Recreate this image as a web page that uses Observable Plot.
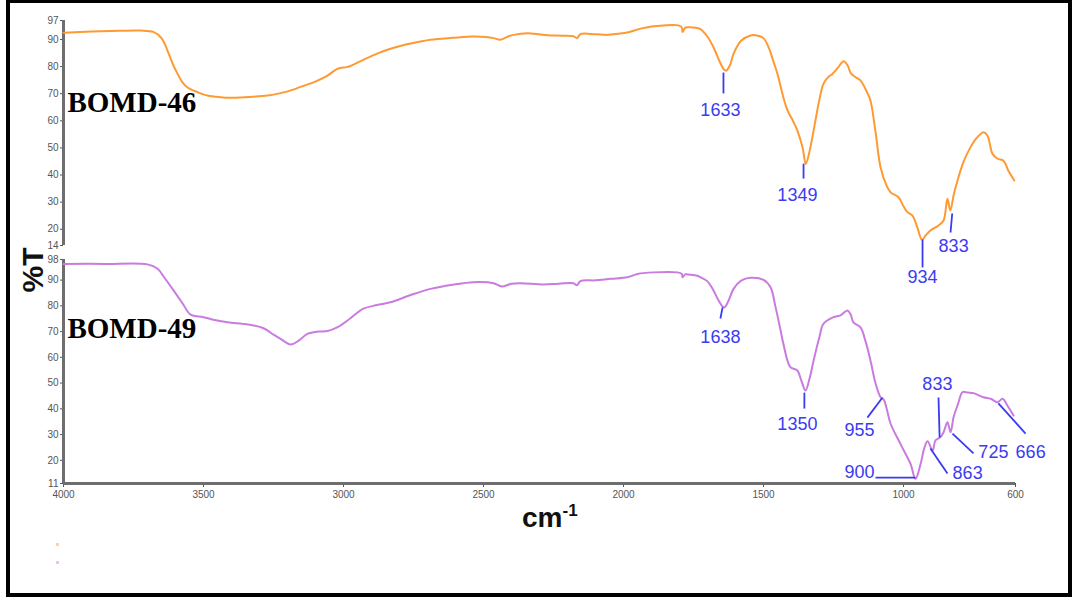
<!DOCTYPE html>
<html><head><meta charset="utf-8">
<script src="https://cdn.jsdelivr.net/npm/d3@7"></script>
<script src="https://cdn.jsdelivr.net/npm/@observablehq/plot@0.6"></script>
<style>
html,body{margin:0;padding:0;background:#fff;}
#wrap{position:relative;width:1075px;height:598px;overflow:hidden;background:#fff;}
#wrap svg{position:absolute;left:0;top:0;}
.frame{position:absolute;left:6px;top:-1px;width:1066px;height:598px;box-sizing:border-box;border:4px solid #000;}
.ylab{position:absolute;left:33px;top:270px;transform:translate(-50%,-50%) rotate(-90deg);font:bold 30px "Liberation Sans",Arial,sans-serif;color:#111;white-space:nowrap;line-height:30px;}
.xlab{position:absolute;left:522px;top:504px;font:bold 28px "Liberation Sans",Arial,sans-serif;color:#111;line-height:28px;white-space:nowrap;}
.xlab span{font-size:17px;position:relative;top:-11px;}
.dot{position:absolute;width:3px;height:3px;opacity:0.45;}
</style></head>
<body><div id="wrap"></div>
<script>
// ---- data ----
const xTicks = [4000, 3500, 3000, 2500, 2000, 1500, 1000, 600];
const yTicks46 = [97, 90, 80, 70, 60, 50, 40, 30, 20, 14];
const yTicks49 = [98, 90, 80, 70, 60, 50, 40, 30, 20, 11];

const wn46 = [4000,3900,3800,3725,3679,3650,3629,3610,3593,3575,3557,3520,3486,3440,3404,3340,3271,3225,3180,3154,3107,3060,3021,2990,2975,2929,2880,2832,2760,2689,2610,2536,2490,2464,2440,2410,2393,2343,2300,2271,2220,2179,2166,2154,2100,2057,2020,1986,1939,1900,1857,1804,1792,1789,1780,1771,1740,1725,1700,1679,1655,1640,1633,1620,1607,1580,1546,1520,1500,1482,1465,1450,1430,1414,1395,1379,1360,1349,1335,1321,1300,1286,1270,1254,1235,1214,1200,1188,1170,1154,1130,1118,1100,1082,1060,1046,1018,1000,986,968,950,934,920,904,875,857,843,833,820,807,785,761,740,714,700,682,664,643,625,604];
const t46 = [92.5,92.9,93.2,93.3,92.8,90.5,86,81,77.4,74.2,72.3,70.5,69.3,68.7,68.5,68.8,69.3,70.2,71.5,72.5,74.2,76.5,79.2,79.8,80.2,82.5,84.8,86.6,88.5,89.9,90.6,91.1,90.9,90.5,89.9,91.2,91.7,92.3,91.9,91.6,91.4,91.2,90.5,92.0,91.9,91.7,92.1,92.6,94.0,94.8,95.2,95.2,94.5,92.8,94.3,94.5,94.3,93.8,91,87.2,81.5,78.8,78.5,80.5,84.7,89.5,91.5,91.4,90.5,87.2,82,77.3,69,63.8,60,56.4,50,44.1,49,56.4,68,73.6,76,77.3,79.5,82,80.5,77.5,76,74.9,70.5,67.5,56,42.9,36,33.6,31.8,28.5,26.3,25,20.5,16.1,17.8,19.5,21.4,23.2,31.2,26.9,33,38,45,50.2,53.5,55.8,54.5,47.8,46,45.3,41.5,38];

const wn49 = [4000,3850,3700,3664,3640,3607,3575,3546,3500,3460,3414,3360,3321,3290,3271,3250,3225,3189,3160,3129,3090,3057,3021,2975,2929,2880,2832,2760,2689,2610,2536,2464,2440,2432,2400,2368,2286,2230,2179,2166,2154,2100,2046,1986,1950,1893,1807,1792,1789,1780,1771,1740,1725,1700,1682,1660,1645,1638,1625,1607,1580,1546,1500,1475,1457,1440,1429,1404,1379,1365,1350,1335,1321,1300,1286,1250,1225,1200,1188,1179,1154,1135,1118,1100,1082,1070,1060,1046,1011,975,957,939,925,914,896,886,868,857,843,832,821,805,789,770,750,714,689,664,646,629,607];
const t49 = [96.3,96.3,96.1,94.4,91,86,81,76.6,75.6,74.5,73.6,73,72.4,71.5,70.4,68.8,67.2,65,66.5,69.1,70,70.2,71.7,75.2,78.9,80.3,81.4,84.2,86.6,88.2,89.2,88.8,87.7,87.5,88.6,88.8,88.3,88.6,88.8,88.0,89.6,89.9,90.5,91.1,92.4,93,93,92.4,91.1,92.2,92.2,91.8,91.1,89.5,86.6,82,79.6,79.5,82,86.6,89.8,90.9,90.1,87.2,79.5,71,65.3,56.2,54.9,51,47.1,52,58.8,68,73,75.6,76.3,78.2,76.5,73.6,71.7,66,58.8,50,44.5,43.5,40,34.2,26.4,18.6,12.8,18.6,25,27.4,23.8,27.7,29,30.9,34.8,30.9,36.8,42,46.5,46.3,46.1,44.5,43.9,42.6,43.9,41.3,37.4];

// peak annotations (data coordinates: wavenumber, %T)
const ann46 = [
  {label:"1633", x1:1643, y1:77.8, x2:1643, y2:70.1, tx:1654, ty:64},
  {label:"1349", x1:1357, y1:44.2, x2:1357, y2:38.7, tx:1379, ty:32.6},
  {label:"934",  x1:932,  y1:16.2, x2:932,  y2:5.9,  tx:932,  ty:2.2},
  {label:"833",  x1:826,  y1:25.8, x2:832,  y2:18.8, tx:821,  ty:13.6}
];
const ann49 = [
  {label:"1638", x1:1646, y1:79.4, x2:1654, y2:75.1, tx:1654, ty:67.7},
  {label:"1350", x1:1354, y1:46.3, x2:1354, y2:40.1, tx:1379, ty:33.9},
  {label:"955",  x1:1075, y1:44.4, x2:1129, y2:36.6, tx:1157, ty:31.6},
  {label:"900",  x1:1100, y1:13.3, x2:957,  y2:13.3, tx:1157, ty:15.4},
  {label:"863",  x1:904,  y1:24.6, x2:843,  y2:14.9, tx:771,  ty:15},
  {label:"833",  x1:875,  y1:44.4, x2:871,  y2:28.9, tx:879,  ty:49.7},
  {label:"725",  x1:825,  y1:30.4, x2:750,  y2:22.7, tx:679,  ty:23.2},
  {label:"666",  x1:661,  y1:42.1, x2:564,  y2:30.4, tx:546,  ty:23.2}
];
const names = ["BOMD-46", "BOMD-49"];

// ---- build ----
const spec46 = wn46.map((w, i) => ({wn: w, t: t46[i]}));
const spec49 = wn49.map((w, i) => ({wn: w, t: t49[i]}));
const ORANGE = "#ff9a33", PURPLE = "#c97be0", BLUE = "#3b3bf2", AXIS = "#6e6e6e";
const common = {
  width: 1075, height: 598, marginLeft: 63, marginRight: 60,
  style: {background: "transparent", overflow: "visible", fontSize: "10px",
          fontFamily: "'Liberation Sans', Arial, sans-serif", color: "#555"}
};
const labelFont = "'Liberation Serif', 'Times New Roman', serif";

const topPlot = Plot.plot({
  ...common, marginTop: 20, marginBottom: 353,
  x: {domain: [4000, 600], axis: null},
  y: {domain: [14, 97], ticks: yTicks46, tickSize: 3, tickPadding: 2, label: null, tickFormat: d => String(d)},
  marks: [
    Plot.ruleX([4000], {stroke: AXIS, strokeWidth: 3}),
    Plot.line(spec46, {x: "wn", y: "t", stroke: ORANGE, strokeWidth: 2, curve: "catmull-rom"}),
    Plot.link(ann46, {x1: "x1", y1: "y1", x2: "x2", y2: "y2", stroke: BLUE, strokeWidth: 1.8}),
    Plot.text(ann46, {x: "tx", y: "ty", text: "label", fill: BLUE, fontSize: 18, fontFamily: "'Liberation Sans', Arial, sans-serif"}),
    Plot.text([names[0]], {x: 3986, y: 66.6, text: d => d, textAnchor: "start", fontFamily: labelFont, fontWeight: "bold", fontSize: 29, fill: "#000"})
  ]
});

const botPlot = Plot.plot({
  ...common, marginTop: 259, marginBottom: 115,
  x: {domain: [4000, 600], ticks: xTicks, tickSize: 4, tickPadding: 3, label: null, tickFormat: d => String(d)},
  y: {domain: [11, 98], ticks: yTicks49, tickSize: 3, tickPadding: 2, label: null, tickFormat: d => String(d)},
  marks: [
    Plot.ruleX([4000], {stroke: AXIS, strokeWidth: 3}),
    Plot.ruleY([11], {stroke: AXIS, strokeWidth: 3}),
    Plot.line(spec49, {x: "wn", y: "t", stroke: PURPLE, strokeWidth: 2, curve: "catmull-rom"}),
    Plot.link(ann49, {x1: "x1", y1: "y1", x2: "x2", y2: "y2", stroke: BLUE, strokeWidth: 1.8}),
    Plot.text(ann49, {x: "tx", y: "ty", text: "label", fill: BLUE, fontSize: 18, fontFamily: "'Liberation Sans', Arial, sans-serif"}),
    Plot.text([names[1]], {x: 3986, y: 71.2, text: d => d, textAnchor: "start", fontFamily: labelFont, fontWeight: "bold", fontSize: 29, fill: "#000"})
  ]
});

const wrap = document.getElementById("wrap");
wrap.appendChild(topPlot);
wrap.appendChild(botPlot);

const frame = document.createElement("div"); frame.className = "frame"; wrap.appendChild(frame);
const yl = document.createElement("div"); yl.className = "ylab"; yl.textContent = "%T"; wrap.appendChild(yl);
const xl = document.createElement("div"); xl.className = "xlab"; xl.innerHTML = "cm<span>-1</span>"; wrap.appendChild(xl);
[[ORANGE, 543], [PURPLE, 561]].forEach(([c, y]) => {
  const d = document.createElement("div"); d.className = "dot";
  d.style.left = "56px"; d.style.top = y + "px"; d.style.background = c; wrap.appendChild(d);
});
</script>
</body></html>
